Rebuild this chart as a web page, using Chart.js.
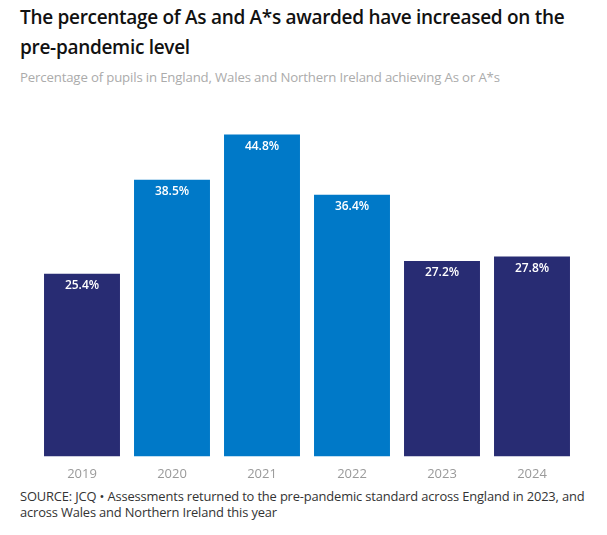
<!DOCTYPE html>
<html><head><meta charset="utf-8">
<script src="https://cdn.jsdelivr.net/npm/chart.js@4/dist/chart.umd.min.js"></script>
<style>
html,body{margin:0;padding:0;background:#fff;}
body{width:607px;height:535px;position:relative;overflow:hidden;font-family:"Open Sans",sans-serif;}
#title{position:absolute;left:20px;top:2px;width:580px;font-size:19px;font-weight:600;line-height:30px;color:#111;letter-spacing:-0.3px;}
#sub{position:absolute;left:20px;top:68px;font-size:13.2px;color:#ababab;letter-spacing:-0.15px;}
#wrap{position:absolute;left:0;top:125px;width:607px;height:359px;}
#src{position:absolute;left:20px;top:488px;width:585px;font-size:12.9px;line-height:16px;color:#333;letter-spacing:-0.15px;}
</style></head><body>
<div id="title">The percentage of As and A*s awarded have increased on the pre-pandemic level</div>
<div id="sub">Percentage of pupils in England, Wales and Northern Ireland achieving As or A*s</div>
<div id="wrap"><canvas id="c" width="607" height="359"></canvas></div>
<div id="src">SOURCE: JCQ • Assessments returned to the pre-pandemic standard across England in 2023, and across Wales and Northern Ireland this year</div>
<script>
const years = ["2019","2020","2021","2022","2023","2024"];
const values = [25.4, 38.5, 44.8, 36.4, 27.2, 27.8];
const barColors = ["#282c73","#0079c8","#0079c8","#0079c8","#282c73","#282c73"];

const labelPlugin = {
  id:'barLabels',
  afterDatasetsDraw(chart){
    const ctx = chart.ctx;
    const meta = chart.getDatasetMeta(0);
    ctx.save();
    ctx.fillStyle = '#fff';
    ctx.font = '600 12px "Open Sans"';
    ctx.textAlign = 'center';
    ctx.textBaseline = 'middle';
    meta.data.forEach((bar,i)=>{
      ctx.fillText(values[i].toFixed(1)+'%', bar.x, bar.y + 12);
    });
    ctx.restore();
  }
};

new Chart(document.getElementById('c'), {
  type:'bar',
  data:{labels:years, datasets:[{data:values, backgroundColor:barColors, borderWidth:0, barPercentage:0.844, categoryPercentage:1.0}]},
  options:{
    responsive:false, animation:false,
    layout:{padding:{left:37,right:30,top:8,bottom:0}},
    plugins:{legend:{display:false}, tooltip:{enabled:false}},
    scales:{
      y:{display:false, min:0, max:45},
      x:{grid:{display:false}, border:{display:false},
         ticks:{color:'#9a9a9a', font:{family:'"Open Sans"', size:13}, padding:2}}
    }
  },
  plugins:[labelPlugin]
});
</script>
</body></html>
